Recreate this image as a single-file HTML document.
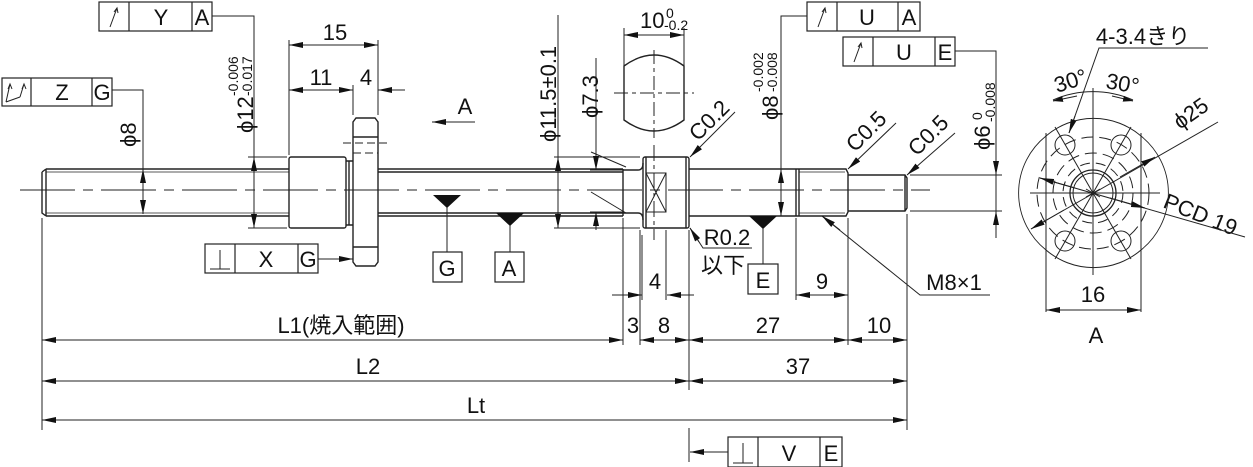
<!DOCTYPE html>
<html><head><meta charset="utf-8"><style>
html,body{margin:0;padding:0;background:#fff;}
svg{display:block;}
text{font-family:"Liberation Sans","Noto Sans CJK JP",sans-serif;fill:#111;}
</style></head><body>
<svg width="1253" height="467" viewBox="0 0 1253 467" xmlns="http://www.w3.org/2000/svg">
<defs>
<marker id="ar" viewBox="0 0 10 6" refX="10" refY="3" markerWidth="10" markerHeight="6" markerUnits="userSpaceOnUse" orient="auto-start-reverse"><path d="M0,0 L10,3 L0,6z" fill="#111"/></marker>
<marker id="ar2" viewBox="0 0 14 6" refX="14" refY="3" markerWidth="14" markerHeight="6" markerUnits="userSpaceOnUse" orient="auto-start-reverse"><path d="M0,0 L14,3 L0,6z" fill="#111"/></marker>
</defs>
<g stroke="#222" stroke-width="1.4" fill="none">
<line x1="20" y1="190" x2="930" y2="190" stroke-dasharray="55,8,10,8" stroke-width="1"/>
<path d="M46,169 L289,169 M46,216 L289,216 M42,172 L42,213 L46,216 M42,172 L46,169 M46,169 L46,216"/>
<line x1="46" y1="172" x2="289" y2="172" stroke-width="0.8"/>
<line x1="46" y1="213" x2="289" y2="213" stroke-width="0.8"/>
<rect x="289" y="157" width="57" height="71" rx="2"/>
<path d="M346,161 L353,161 M346,225 L353,225 M349,161 L349,225"/>
<path d="M356,118 L375,118 L378,122 L378,262 L375,266 L356,266 L353,262 L353,122 Z"/>
<line x1="353" y1="137" x2="378" y2="137"/><line x1="353" y1="247" x2="378" y2="247"/>
<line x1="343" y1="143" x2="388" y2="143" stroke-dasharray="8,4" stroke-width="1"/>
<line x1="353" y1="153" x2="378" y2="153" stroke-dasharray="8,4" stroke-width="1"/>
<path d="M378,169 L623,169 M378,216 L623,216 M378,172 L623,172 M378,213 L623,213"/>
<path d="M623,169 L623,216"/>
<path d="M623,170 L638,170 Q643,170 643,163 M623,213 L638,213 Q643,213 643,220"/>
<rect x="643" y="157" width="46" height="71" rx="2"/>
<line x1="646" y1="157" x2="646" y2="228"/><line x1="686" y1="157" x2="686" y2="228"/>
<rect x="646" y="173" width="20" height="39" stroke-width="1"/>
<path d="M646,173 L666,212 M666,173 L646,212" stroke-width="1"/>
<line x1="654" y1="145" x2="654" y2="240" stroke-dasharray="16,4,4,4" stroke-width="1"/>
<path d="M689,169 L796,169 M689,216 L796,216 M796,169 L796,216"/>
<path d="M796,169 L846,169 L848,173 L848,212 L846,216 L796,216 M799,169 L799,216"/>
<line x1="799" y1="172" x2="845" y2="172" stroke-width="0.8"/><line x1="799" y1="213" x2="845" y2="213" stroke-width="0.8"/>
<path d="M848,175 L905,175 L907,178 L907,208 L905,211 L848,211 M905,175 L905,211"/>
<path d="M624,66 Q654,44 684,66 L684,120 Q654,142 624,120 Z"/>
<line x1="654" y1="50" x2="654" y2="138" stroke-dasharray="14,4,4,4" stroke-width="1"/>
<line x1="614" y1="93" x2="694" y2="93" stroke-dasharray="14,4,4,4" stroke-width="1"/>
</g>

<g stroke="#222" stroke-width="1" fill="none">
<line x1="42" y1="218" x2="42" y2="430"/>
<line x1="689" y1="230" x2="689" y2="390"/>
<line x1="689" y1="428" x2="689" y2="462"/>
<line x1="907" y1="214" x2="907" y2="430"/>
<line x1="623" y1="218" x2="623" y2="345"/>
<line x1="640" y1="230" x2="640" y2="345"/>
<line x1="666" y1="230" x2="666" y2="300"/>
<line x1="848" y1="218" x2="848" y2="345"/>
<line x1="796" y1="218" x2="796" y2="300"/>
<line x1="353" y1="115" x2="353" y2="85"/>
<line x1="378" y1="115" x2="378" y2="40"/>
<line x1="289" y1="155" x2="289" y2="40"/>
<line x1="42" y1="340" x2="623" y2="340" marker-start="url(#ar2)" marker-end="url(#ar2)"/>
<line x1="640" y1="340" x2="689" y2="340" marker-start="url(#ar2)" marker-end="url(#ar2)"/>
<line x1="689" y1="340" x2="848" y2="340" marker-start="url(#ar2)" marker-end="url(#ar2)"/>
<line x1="848" y1="340" x2="907" y2="340" marker-start="url(#ar2)" marker-end="url(#ar2)"/>
<line x1="42" y1="381" x2="689" y2="381" marker-start="url(#ar2)" marker-end="url(#ar2)"/>
<line x1="689" y1="381" x2="907" y2="381" marker-start="url(#ar2)" marker-end="url(#ar2)"/>
<line x1="42" y1="420" x2="907" y2="420" marker-start="url(#ar2)" marker-end="url(#ar2)"/>
<line x1="612" y1="295" x2="642" y2="295" marker-end="url(#ar2)"/>
<line x1="694" y1="295" x2="667" y2="295" marker-end="url(#ar2)"/>
<line x1="642" y1="235" x2="642" y2="300"/>
<line x1="796" y1="295" x2="848" y2="295" marker-start="url(#ar2)" marker-end="url(#ar2)"/>
<line x1="289" y1="45" x2="378" y2="45" marker-start="url(#ar2)" marker-end="url(#ar2)"/>
<line x1="289" y1="90" x2="353" y2="90" marker-start="url(#ar2)" marker-end="url(#ar2)"/>
<line x1="405" y1="90" x2="378" y2="90" marker-end="url(#ar2)"/>
<line x1="254" y1="157" x2="254" y2="228" marker-start="url(#ar2)" marker-end="url(#ar2)"/>
<line x1="248" y1="157" x2="287" y2="157"/><line x1="248" y1="228" x2="287" y2="228"/>
<polyline points="212,16 254,16 254,157"/>
<line x1="143" y1="169" x2="143" y2="214" marker-start="url(#ar2)" marker-end="url(#ar2)"/>
<polyline points="112,90 143,90 143,169"/>
<line x1="318" y1="259" x2="353" y2="259" marker-end="url(#ar2)"/>
<line x1="475" y1="122" x2="432" y2="122" marker-end="url(#ar2)"/>
<line x1="558" y1="15" x2="558" y2="228"/>
<line x1="558" y1="157" x2="558" y2="228" marker-start="url(#ar2)" marker-end="url(#ar2)"/>
<line x1="554" y1="157" x2="640" y2="157"/><line x1="554" y1="228" x2="640" y2="228"/>
<line x1="596" y1="58" x2="596" y2="170" marker-end="url(#ar2)"/>
<line x1="596" y1="230" x2="596" y2="212" marker-end="url(#ar2)"/>
<line x1="590" y1="170" x2="624" y2="170"/>
<line x1="590" y1="212" x2="624" y2="212"/>
<line x1="591" y1="152" x2="626" y2="167"/>
<line x1="591" y1="192" x2="626" y2="213"/>
<line x1="624" y1="35" x2="684" y2="35" marker-start="url(#ar2)" marker-end="url(#ar2)"/>
<line x1="624" y1="28" x2="624" y2="66"/><line x1="684" y1="28" x2="684" y2="66"/>
<line x1="735" y1="112" x2="690" y2="157" marker-end="url(#ar2)"/>
<polyline points="752,248 703,248 690,228"/>
<line x1="699" y1="242" x2="690" y2="228" marker-end="url(#ar2)"/>
<polyline points="807,16 781,16 781,169"/>
<line x1="781" y1="169" x2="781" y2="216" marker-start="url(#ar2)" marker-end="url(#ar2)"/>
<line x1="896" y1="123" x2="848" y2="169" marker-end="url(#ar2)"/>
<line x1="955" y1="133" x2="907" y2="175" marker-end="url(#ar2)"/>
<polyline points="990,295 920,295 822,216"/>
<line x1="840" y1="230" x2="822" y2="216" marker-end="url(#ar2)"/>
<polyline points="955,51 996,51 996,238"/>
<line x1="996" y1="155" x2="996" y2="175" marker-end="url(#ar2)"/>
<line x1="996" y1="230" x2="996" y2="211" marker-end="url(#ar2)"/>
<line x1="910" y1="175" x2="1002" y2="175"/><line x1="910" y1="211" x2="1002" y2="211"/>
<line x1="728" y1="452" x2="690" y2="452" marker-end="url(#ar2)"/>
<line x1="447" y1="200" x2="447" y2="252"/>
<line x1="510" y1="218" x2="510" y2="252"/>
<line x1="763" y1="220" x2="763" y2="264"/>
</g>
<g fill="#111">
<path d="M433,195 L461,195 L447,208Z"/>
<path d="M496,213 L524,213 L510,226Z"/>
<path d="M749,216 L777,216 L763,229Z"/>
</g>

<g stroke="#222" stroke-width="1.2" fill="#fff">
<rect x="99" y="2" width="113" height="29"/><line x1="129" y1="2" x2="129" y2="31"/><line x1="192" y1="2" x2="192" y2="31"/>
<rect x="2" y="78" width="110" height="28"/><line x1="31" y1="78" x2="31" y2="106"/><line x1="92" y1="78" x2="92" y2="106"/>
<rect x="205" y="244" width="113" height="29"/><line x1="235" y1="244" x2="235" y2="273"/><line x1="298" y1="244" x2="298" y2="273"/>
<rect x="807" y="2" width="113" height="29"/><line x1="837" y1="2" x2="837" y2="31"/><line x1="898" y1="2" x2="898" y2="31"/>
<rect x="843" y="37" width="112" height="29"/><line x1="873" y1="37" x2="873" y2="66"/><line x1="935" y1="37" x2="935" y2="66"/>
<rect x="728" y="437" width="114" height="30"/><line x1="758" y1="437" x2="758" y2="467"/><line x1="820" y1="437" x2="820" y2="467"/>
<rect x="433" y="252" width="29" height="30"/>
<rect x="495" y="252" width="29" height="30"/>
<rect x="748" y="264" width="30" height="30"/>
</g>
<g stroke="#222" stroke-width="1" fill="none">
<path d="M110,27 L117,8 M114,12 L117,8 L118,13"/>
<path d="M818,27 L825,8 M822,12 L825,8 L826,13"/>
<path d="M854,62 L861,43 M858,47 L861,43 L862,48"/>
<path d="M6,102 L10,84 M8,89 L10,84 L12,89 M20,97 L24,84 M22,89 L24,84 L26,89 M6,102 L20,97"/>
<path d="M210,269 L230,269 M220,250 L220,269"/>
<path d="M733,463 L753,463 M743,443 L743,463"/>
</g>
<g font-size="22" text-anchor="middle">
<text x="161" y="25">Y</text><text x="202" y="25">A</text>
<text x="62" y="100">Z</text><text x="102" y="100">G</text>
<text x="266" y="267">X</text><text x="308" y="267">G</text>
<text x="867" y="25">U</text><text x="909" y="25">A</text>
<text x="904" y="60">U</text><text x="945" y="60">E</text>
<text x="789" y="461">V</text><text x="831" y="461">E</text>
<text x="447" y="276">G</text><text x="509" y="276">A</text><text x="763" y="288">E</text>
<text x="335" y="40">15</text><text x="321" y="85">11</text><text x="366" y="85">4</text>
<text x="465" y="114">A</text>
<text x="655" y="289">4</text><text x="822" y="289">9</text>
<text x="341" y="333">L1(焼入範囲)</text>
<text x="633" y="333">3</text><text x="664" y="333">8</text>
<text x="768" y="333">27</text><text x="879" y="333">10</text>
<text x="368" y="374">L2</text><text x="798" y="374">37</text>
<text x="476" y="413">Lt</text>
<text x="727" y="245">R0.2</text>
<text x="723" y="273">以下</text>
<text x="954" y="290">M8×1</text>
<text x="1143" y="44">4-3.4きり</text>
<text x="1093" y="302">16</text>
<text x="1096" y="343">A</text>
<text x="640" y="28" text-anchor="start">10</text>
<text x="136" y="147" transform="rotate(-90 136 147)" text-anchor="start">ϕ8</text>
<text x="253" y="133" transform="rotate(-90 253 133)" text-anchor="start">ϕ12</text>
<text x="556" y="142" transform="rotate(-90 556 142)" text-anchor="start">ϕ11.5±0.1</text>
<text x="598" y="118" transform="rotate(-90 598 118)" text-anchor="start">ϕ7.3</text>
<text x="778" y="120" transform="rotate(-90 778 120)" text-anchor="start">ϕ8</text>
<text x="990" y="150" transform="rotate(-90 990 150)" text-anchor="start">ϕ6</text>
<text x="698" y="142" transform="rotate(-45 698 142)" text-anchor="start">C0.2</text>
<text x="855" y="153" transform="rotate(-45 855 153)" text-anchor="start">C0.5</text>
<text x="917" y="157" transform="rotate(-45 917 157)" text-anchor="start">C0.5</text>
<text x="1057" y="93" transform="rotate(-18 1057 93)" text-anchor="start">30°</text>
<text x="1105" y="88" transform="rotate(10 1105 88)" text-anchor="start">30°</text>
<text x="1180" y="130" transform="rotate(-35 1180 130)" text-anchor="start">ϕ25</text>
<text x="1162" y="207" transform="rotate(22 1162 207)" text-anchor="start">PCD 19</text>
</g>
<g font-size="14">
<text x="238" y="96" transform="rotate(-90 238 96)">-0.006</text>
<text x="252" y="96" transform="rotate(-90 252 96)">-0.017</text>
<text x="763" y="92" transform="rotate(-90 763 92)">-0.002</text>
<text x="777" y="92" transform="rotate(-90 777 92)">-0.008</text>
<text x="982" y="120" transform="rotate(-90 982 120)">0</text>
<text x="995" y="122" transform="rotate(-90 995 122)">-0.008</text>
<text x="666" y="18">0</text>
<text x="664" y="30">-0.2</text>
</g>

<g stroke="#222" stroke-width="1" fill="none">
<line x1="1046" y1="133" x2="1046" y2="312"/>
<line x1="1141" y1="133" x2="1141" y2="312"/>
<path d="M1046,136 A73,73 0 0 1 1141,136"/>
<path d="M1046,250 A73,73 0 0 0 1141,250"/>
<path d="M1046,136 A73,73 0 0 0 1046,250" stroke-width="0.9"/>
<path d="M1141,136 A73,73 0 0 1 1141,250" stroke-width="0.9"/>
<circle cx="1093" cy="193" r="23" stroke-width="1.3"/>
<circle cx="1093" cy="193" r="20"/>
<circle cx="1093" cy="193" r="56" stroke-dasharray="12,6"/>
<circle cx="1093" cy="193" r="40" stroke-dasharray="12,6"/>
<circle cx="1093" cy="193" r="30" stroke-dasharray="10,6"/>
<circle cx="1065" cy="145" r="10"/><circle cx="1121" cy="145" r="10"/>
<circle cx="1065" cy="241" r="10"/><circle cx="1121" cy="241" r="10"/>
<line x1="1093" y1="88" x2="1093" y2="275"/>
<line x1="1030" y1="193" x2="1160" y2="193"/>
<line x1="1055" y1="127" x2="1131" y2="259"/>
<line x1="1131" y1="127" x2="1055" y2="259"/>
<path d="M1086,189 L1100,197 M1086,197 L1100,189 M1093,185 L1093,201"/>
<path d="M1053,100 A100,100 0 0 1 1133,100"/>
<line x1="1077" y1="96" x2="1053" y2="101" marker-end="url(#ar)"/>
<line x1="1112" y1="96" x2="1133" y2="101" marker-end="url(#ar)"/>
<polyline points="1208,48 1099,48 1069,133"/>
<line x1="1075" y1="116" x2="1069" y2="133" marker-end="url(#ar2)"/>
<line x1="1031" y1="229" x2="1218" y2="122"/>
<line x1="1120" y1="177" x2="1155" y2="157" marker-end="url(#ar2)"/>
<line x1="1064" y1="210" x2="1031" y2="229" marker-end="url(#ar2)"/>
<line x1="1040" y1="178" x2="1245" y2="237"/>
<line x1="1075" y1="188" x2="1040" y2="178" marker-end="url(#ar2)"/>
<line x1="1110" y1="198" x2="1145" y2="208" marker-end="url(#ar2)"/>
<line x1="1046" y1="310" x2="1141" y2="310" marker-start="url(#ar2)" marker-end="url(#ar2)"/>
</g>
</svg>
</body></html>
